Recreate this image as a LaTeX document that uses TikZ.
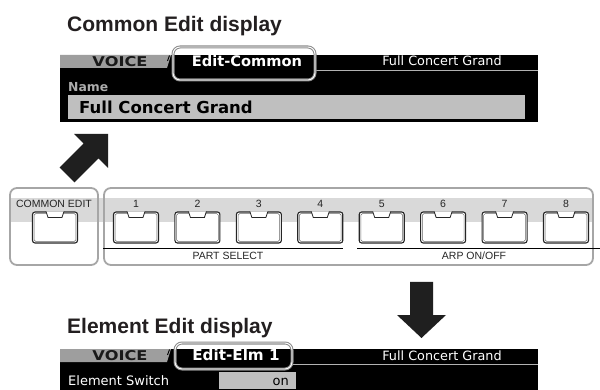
\documentclass[tikz,border=0pt]{standalone}
\usepackage{fontspec}
\usepackage{graphicx}
\setmainfont{Liberation Sans}
\newfontfamily\lcd{DejaVu Sans}
\definecolor{inkc}{HTML}{231F20}
\definecolor{tabgray}{gray}{0.62}
\definecolor{bargray}{gray}{0.75}
\definecolor{bandgray}{gray}{0.85}
\definecolor{ringgray}{gray}{0.55}
\tikzset{
  titletext/.style={anchor=base west, inner sep=0pt, text=inkc, font=\fontsize{21}{21}\selectfont\bfseries},
  lcdhead/.style={anchor=base, inner sep=0pt, text=white, font=\lcd\fontsize{12.8}{13}\selectfont},
  lcdtab/.style={anchor=base, inner sep=0pt, text=black!90, font=\lcd\bfseries\fontsize{13.5}{13.5}\selectfont},
  lcdmode/.style={anchor=base, inner sep=0pt, text=white, font=\lcd\bfseries\fontsize{14.6}{15}\selectfont},
  ring/.style={draw=ringgray, line width=3pt, rounded corners=7pt},
  ringin/.style={draw=white, line width=0.9pt, rounded corners=7pt},
  panelbox/.style={draw=gray!70, line width=1.8pt, rounded corners=7pt, fill=none},
  keybtn/.style={draw=black!85, line width=1.1pt, fill=white, rounded corners=2.5pt,
     minimum width=45pt, minimum height=31pt, inner sep=0pt},
  keyinner/.style={draw=black!60, line width=0.5pt, rounded corners=1.5pt},
  keyled/.style={fill=white, draw=black!85, line width=0.8pt},
  paneltext/.style={inner sep=0pt, text=black!85, font=\fontsize{10.5}{10.5}\selectfont},
  blockarrow/.style={fill=black!88, draw=none},
}
\begin{document}
\begin{tikzpicture}[x=1pt,y=-1pt]
\useasboundingbox (0,0) rectangle (600,390);
\fill[white] (0,0) rectangle (600,390);

% ---------- Common Edit display ----------
\node[titletext] (t1) at (67,32) {Common Edit display};
\fill[black] (60,55) rectangle (538,122);
\fill[tabgray] (60,55) -- (171,55) -- (167,68) -- (60,68) -- cycle;
\draw[black, line width=0.9pt] (169.5,55.5) -- (167.5,61);
\node[lcdtab] (v1) at (120,66.8) {\scalebox{1.2}[1]{VOICE}};
\draw[gray!60, line width=1pt] (315,70.5) -- (538,70.5);
\node[lcdmode] (m1) at (247,66.5) {Edit-Common};
\node[lcdhead] (h1) at (442,66) {Full Concert Grand};
\draw[ring] (173,47) rectangle (315,80);
\draw[ringin] (173,47) rectangle (315,80);
\node[anchor=base west, inner sep=0pt, text=gray!65, font=\lcd\bfseries\fontsize{12.4}{12.4}\selectfont] (nm) at (68,92) {Name};
\draw[fill=bargray, draw=gray!50, line width=0.6pt] (68,95) rectangle (524,118);
\node[anchor=base west, inner sep=0pt, text=black, font=\lcd\bfseries\fontsize{16.5}{16.5}\selectfont] (nv) at (79,114) {Full Concert Grand};

% ---------- diagonal arrow ----------
\fill[blockarrow] (108,134) -- (74,134) -- (83.6,143.6) -- (59.6,167.6) -- (74.4,182.4) -- (98.4,158.4) -- (108,168) -- cycle;

% ---------- panel ----------
\fill[bandgray] (10,198) rectangle (593,222);
\node[panelbox, minimum width=88pt, minimum height=77pt] (ceb) at (54,226.5) {};
\node[panelbox, minimum width=489pt, minimum height=77pt] (psb) at (348.5,226.5) {};
\node[paneltext, anchor=base] (cet) at (54,208) {COMMON EDIT};
\node[keybtn] (b0) at (55,227.5) {};
\draw[keyinner] ([xshift=2.2pt,yshift=-2.2pt]b0.north west) rectangle ([xshift=-2.2pt,yshift=2.2pt]b0.south east);
\draw[keyled] ([xshift=-9pt]b0.north) -- ([xshift=-7pt,yshift=-6pt]b0.north) -- ([xshift=7pt,yshift=-6pt]b0.north) -- ([xshift=9pt]b0.north);
\foreach \i in {1,...,8}{
  \pgfmathsetmacro{\cx}{136+61.43*(\i-1)}
  \node[keybtn] (b\i) at (\cx,227.5) {};
  \draw[keyinner] ([xshift=2.2pt,yshift=-2.2pt]b\i.north west) rectangle ([xshift=-2.2pt,yshift=2.2pt]b\i.south east);
  \draw[keyled] ([xshift=-9pt]b\i.north) -- ([xshift=-7pt,yshift=-6pt]b\i.north) -- ([xshift=7pt,yshift=-6pt]b\i.north) -- ([xshift=9pt]b\i.north);
  \node[paneltext, anchor=base] (n\i) at (\cx,208) {\i};
}
\coordinate (ps1) at (103,248);
\coordinate (ps2) at (343,248);
\coordinate (ar1) at (357,248);
\coordinate (ar2) at (600,248);
\draw[black, line width=0.8pt] (ps1) -- (ps2);
\draw[black, line width=0.8pt] (ar1) -- (ar2);
\node[paneltext, anchor=base] (pst) at (228,260) {PART SELECT};
\node[paneltext, anchor=base] (art) at (474,260) {ARP ON/OFF};

% ---------- down arrow ----------
\fill[blockarrow] (410,282) -- (433,282) -- (433,315) -- (446,315) -- (421.5,338) -- (397,315) -- (410,315) -- cycle;

% ---------- Element Edit display ----------
\node[titletext] (t2) at (67,333) {Element Edit display};
\fill[black] (60,349) rectangle (538,390);
\fill[tabgray] (60,349) -- (171,349) -- (167,362) -- (60,362) -- cycle;
\draw[black, line width=0.9pt] (169.5,349.5) -- (167.5,355);
\node[lcdtab] (v2) at (120,360.8) {\scalebox{1.2}[1]{VOICE}};
\draw[gray!60, line width=1pt] (292,364.5) -- (538,364.5);
\node[lcdmode, font=\lcd\bfseries\fontsize{15.2}{15}\selectfont] (m2) at (236,360.5) {Edit-Elm 1};
\node[lcdhead] (h2) at (442,360) {Full Concert Grand};
\draw[ring] (175,343) rectangle (292,369);
\draw[ringin] (175,343) rectangle (292,369);
\node[anchor=base west, inner sep=0pt, text=white, font=\lcd\fontsize{13}{13}\selectfont] (es) at (68,385) {Element Switch};
\draw[fill=bargray, draw=gray!50, line width=0.6pt] (219,372) rectangle (295,388);
\node[anchor=base east, inner sep=0pt, text=black, font=\lcd\fontsize{13}{13}\selectfont] (on) at (289,385) {on};
\end{tikzpicture}
\end{document}
